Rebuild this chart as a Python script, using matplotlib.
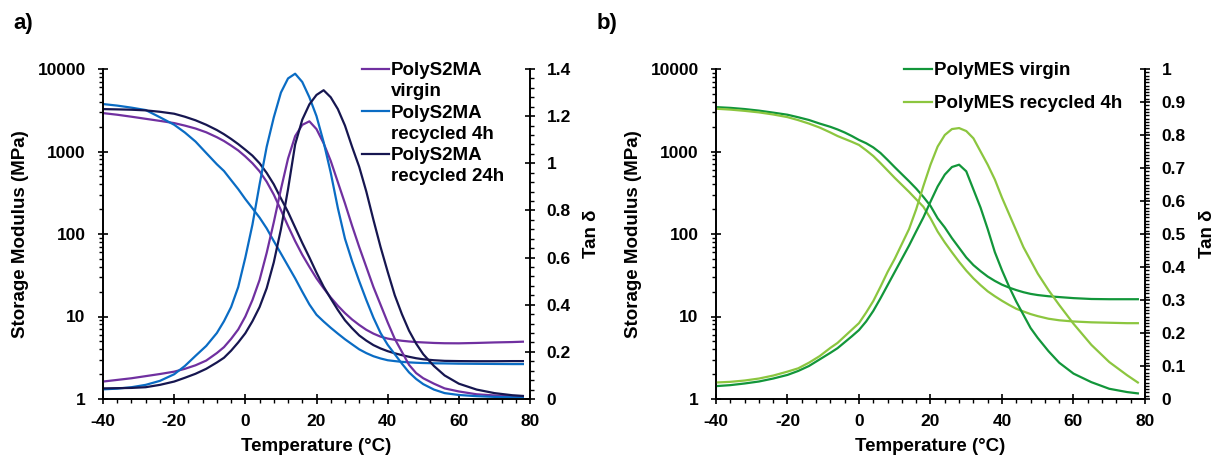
import matplotlib
matplotlib.use("Agg")
import matplotlib.pyplot as plt
from matplotlib.lines import Line2D
from matplotlib.ticker import FixedLocator, FuncFormatter, MultipleLocator, LogLocator, NullFormatter

plt.rcParams['font.family'] = ['Liberation Sans', 'DejaVu Sans']
plt.rcParams['font.weight'] = 'bold'
plt.rcParams['axes.unicode_minus'] = False

# ---------------- data ----------------
temp = [-40, -36, -32, -28, -24, -20, -17, -14, -11, -8, -6, -4, -2, 0, 2, 4, 6, 8, 10,
        12, 14, 16, 18, 20, 22, 24, 26, 28, 30, 32, 34, 36, 38, 40, 42, 44, 46, 48, 50,
        53, 56, 60, 65, 70, 75, 78]

# Panel a: PolyS2MA  (storage modulus, MPa)
s2ma_virgin_E = [2920, 2790, 2640, 2490, 2350, 2210, 2060, 1900, 1710, 1490, 1340, 1180,
                 1030, 870, 720, 575, 430, 300, 195, 125, 82, 56, 40, 29, 22, 17, 13.5,
                 11, 9.2, 7.9, 6.9, 6.2, 5.7, 5.4, 5.22, 5.08, 4.98, 4.9, 4.85, 4.78, 4.74,
                 4.73, 4.78, 4.85, 4.9, 4.95]
s2ma_rec4_E = [3760, 3600, 3400, 3180, 2600, 2110, 1700, 1320, 960, 700, 580, 450, 350,
               265, 205, 158, 117, 82, 58, 41, 29, 20, 14, 10.5, 8.7, 7.3, 6.2, 5.3, 4.6,
               4.0, 3.6, 3.3, 3.1, 2.95, 2.88, 2.82, 2.78, 2.75, 2.73, 2.71, 2.7, 2.68,
               2.67, 2.66, 2.65, 2.65]
s2ma_rec24_E = [3265, 3240, 3210, 3150, 3030, 2870, 2640, 2390, 2110, 1820, 1620, 1420,
                1230, 1050, 890, 720, 550, 400, 270, 185, 120, 78, 52, 34, 23, 16.5, 12, 9,
                7.2, 5.9, 5.1, 4.5, 4.1, 3.8, 3.58, 3.4, 3.25, 3.12, 3.03, 2.95, 2.9, 2.88,
                2.87, 2.87, 2.88, 2.88]
# Panel a: tan delta
s2ma_virgin_tan = [0.074, 0.081, 0.088, 0.097, 0.106, 0.116, 0.128, 0.143, 0.163, 0.195,
                   0.22, 0.255, 0.295, 0.35, 0.42, 0.505, 0.62, 0.75, 0.89, 1.02, 1.115,
                   1.163, 1.178, 1.145, 1.085, 1.01, 0.92, 0.83, 0.735, 0.645, 0.56, 0.475,
                   0.40, 0.325, 0.255, 0.20, 0.145, 0.11, 0.088, 0.065, 0.045, 0.032, 0.02,
                   0.015, 0.011, 0.01]
s2ma_rec4_tan = [0.041, 0.044, 0.05, 0.06, 0.077, 0.105, 0.14, 0.183, 0.225, 0.28, 0.33,
                 0.39, 0.475, 0.60, 0.74, 0.91, 1.07, 1.195, 1.30, 1.36, 1.38, 1.345, 1.28,
                 1.20, 1.09, 0.96, 0.81, 0.68, 0.585, 0.50, 0.42, 0.345, 0.28, 0.23, 0.19,
                 0.15, 0.113, 0.085, 0.063, 0.04, 0.025, 0.017, 0.012, 0.009, 0.007, 0.007]
s2ma_rec24_tan = [0.045, 0.046, 0.047, 0.05, 0.06, 0.074, 0.09, 0.107, 0.128, 0.155, 0.175,
                  0.205, 0.24, 0.279, 0.33, 0.39, 0.47, 0.58, 0.72, 0.89, 1.08, 1.185, 1.25,
                  1.29, 1.31, 1.28, 1.23, 1.16, 1.07, 0.985, 0.88, 0.76, 0.645, 0.54, 0.44,
                  0.36, 0.29, 0.235, 0.19, 0.14, 0.10, 0.065, 0.04, 0.025, 0.016, 0.013]

# Panel b: PolyMES  (storage modulus, MPa)
mes_virgin_E = [3450, 3380, 3270, 3130, 2960, 2790, 2600, 2410, 2180, 1990, 1850, 1700,
                1540, 1380, 1260, 1120, 960, 790, 645, 530, 436, 355, 282, 219, 155, 120,
                89, 68, 52, 42, 35.5, 30.5, 27, 24.3, 22.4, 20.9, 19.7, 18.8, 18.2, 17.6,
                17.2, 16.7, 16.3, 16.2, 16.2, 16.2]
mes_rec4_E = [3300, 3220, 3110, 2980, 2810, 2610, 2400, 2180, 1950, 1700, 1540, 1420,
              1310, 1200, 1035, 881, 724, 589, 479, 394, 324, 263, 214, 155, 107, 79, 60,
              46, 36, 29, 24, 20.2, 17.6, 15.5, 13.8, 12.4, 11.5, 10.7, 10.1, 9.4, 9.0,
              8.7, 8.5, 8.4, 8.3, 8.3]
# Panel b: tan delta
mes_virgin_tan = [0.039, 0.042, 0.047, 0.053, 0.062, 0.073, 0.085, 0.10, 0.12, 0.14, 0.154,
                  0.172, 0.19, 0.209, 0.235, 0.267, 0.305, 0.345, 0.385, 0.425, 0.465,
                  0.508, 0.55, 0.598, 0.644, 0.68, 0.703, 0.71, 0.69, 0.635, 0.58, 0.515,
                  0.445, 0.39, 0.34, 0.295, 0.255, 0.215, 0.185, 0.145, 0.11, 0.077, 0.051,
                  0.031, 0.021, 0.017]
mes_rec4_tan = [0.05, 0.052, 0.056, 0.062, 0.071, 0.083, 0.093, 0.11, 0.13, 0.155, 0.17,
                0.19, 0.21, 0.23, 0.262, 0.297, 0.34, 0.385, 0.425, 0.47, 0.515, 0.575,
                0.645, 0.71, 0.765, 0.80, 0.818, 0.821, 0.812, 0.79, 0.75, 0.71, 0.665,
                0.61, 0.56, 0.51, 0.46, 0.42, 0.38, 0.33, 0.285, 0.228, 0.164, 0.112,
                0.072, 0.05]

x_ticks = [-40, -20, 0, 20, 40, 60, 80]
e_ticks = [1, 10, 100, 1000, 10000]
tan_ticks_a = [0, 0.2, 0.4, 0.6, 0.8, 1.0, 1.2, 1.4]
tan_ticks_b = [0, 0.1, 0.2, 0.3, 0.4, 0.5, 0.6, 0.7, 0.8, 0.9, 1.0]

c_purple = "#7030A0"
c_blue = "#0A6CC4"
c_navy = "#161650"
c_dgreen = "#12963A"
c_lgreen = "#8CC63F"

FS_TICK = 12.5
FS_LAB = 13.5
LW = 1.6

fig = plt.figure(figsize=(12.16, 4.57), dpi=100)
bottom = 1 - 399 / 457
height = 330 / 457
axA = fig.add_axes([103 / 1216, bottom, 427 / 1216, height])
axB = fig.add_axes([716 / 1216, bottom, 429 / 1216, height])

fmt = FuncFormatter(lambda v, p: f"{v:g}")


def style(ax, tx, tan_ticks, tan_max, tan_minor):
    ax.set_yscale('log')
    ax.set_xlim(-40, 80)
    ax.set_ylim(1, 10000)
    ax.xaxis.set_major_locator(FixedLocator(x_ticks))
    ax.xaxis.set_minor_locator(MultipleLocator(4))
    ax.xaxis.set_major_formatter(fmt)
    ax.yaxis.set_major_locator(FixedLocator(e_ticks))
    ax.yaxis.set_minor_locator(LogLocator(base=10, subs=range(2, 10)))
    ax.yaxis.set_major_formatter(fmt)
    ax.yaxis.set_minor_formatter(NullFormatter())
    tx.set_ylim(0, tan_max)
    tx.yaxis.set_major_locator(FixedLocator(tan_ticks))
    tx.yaxis.set_minor_locator(MultipleLocator(tan_minor))
    tx.yaxis.set_major_formatter(fmt)
    for a in (ax, tx):
        a.spines['top'].set_visible(False)
        for s in a.spines.values():
            s.set_linewidth(1.2)
        a.tick_params(which='major', direction='inout', length=7, width=1.2,
                      labelsize=FS_TICK)
        a.tick_params(which='minor', direction='out', length=3, width=1.0)
    ax.tick_params(axis='x', which='major', pad=7)
    ax.tick_params(axis='y', which='major', pad=9)
    tx.tick_params(axis='y', which='major', pad=8.5)
    ax.set_xlabel("Temperature (°C)", fontsize=FS_LAB, fontweight='bold', labelpad=6.5)
    ax.set_ylabel("Storage Modulus (MPa)", fontsize=FS_LAB, fontweight='bold')
    ax.yaxis.set_label_coords(-0.173, 0.5)
    tx.set_ylabel("Tan δ", fontsize=FS_LAB, fontweight='bold')
    tx.yaxis.set_label_coords(1.125, 0.5)


# Panel a
txA = axA.twinx()
style(axA, txA, tan_ticks_a, 1.4, 0.04)
l1, = axA.plot(temp, s2ma_virgin_E, color=c_purple, lw=LW)
l2, = axA.plot(temp, s2ma_rec4_E, color=c_blue, lw=LW)
l3, = axA.plot(temp, s2ma_rec24_E, color=c_navy, lw=LW)
txA.plot(temp, s2ma_virgin_tan, color=c_purple, lw=LW)
txA.plot(temp, s2ma_rec4_tan, color=c_blue, lw=LW)
txA.plot(temp, s2ma_rec24_tan, color=c_navy, lw=LW)

blank = Line2D([], [], color='none')
txA.legend([l1, blank, l2, blank, l3, blank],
           ["PolyS2MA", "virgin", "PolyS2MA", "recycled 4h", "PolyS2MA", "recycled 24h"],
           loc='upper left', bbox_to_anchor=(362 / 1216, 1 - 62 / 457),
           bbox_transform=fig.transFigure, frameon=False,
           prop={'weight': 'bold', 'size': FS_LAB}, handlelength=1.45, handletextpad=0.1,
           labelspacing=0.22, borderpad=0, borderaxespad=0)

# Panel b
txB = axB.twinx()
style(axB, txB, tan_ticks_b, 1.0, 0.01)
m1, = axB.plot(temp, mes_virgin_E, color=c_dgreen, lw=LW)
m2, = axB.plot(temp, mes_rec4_E, color=c_lgreen, lw=LW)
txB.plot(temp, mes_virgin_tan, color=c_dgreen, lw=LW)
txB.plot(temp, mes_rec4_tan, color=c_lgreen, lw=LW)
txB.legend([m1, m2], ["PolyMES virgin", "PolyMES recycled 4h"],
           loc='upper left', bbox_to_anchor=(904 / 1216, 1 - 62 / 457),
           bbox_transform=fig.transFigure, frameon=False,
           prop={'weight': 'bold', 'size': FS_LAB}, handlelength=1.5, handletextpad=0.1,
           labelspacing=0.86, borderpad=0, borderaxespad=0)

fig.text(13 / 1216, 1 - 24 / 457, "a)", fontsize=16, fontweight='bold', va='center', ha='left')
fig.text(597 / 1216, 1 - 24 / 457, "b)", fontsize=16, fontweight='bold', va='center', ha='left')

fig.savefig("out.png", dpi=100)
